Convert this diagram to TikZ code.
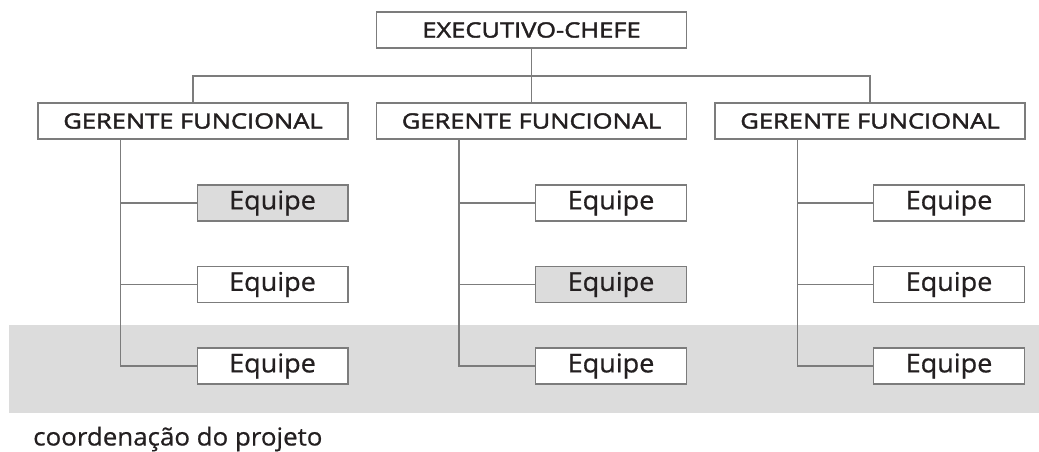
\documentclass[tikz,border=0pt]{standalone}
\usepackage{fontspec}
\setmainfont{Open Sans}
\newfontfamily\capsfont[FakeStretch=1.21,FakeBold=2]{Open Sans}
\newfontfamily\teamfont[FakeStretch=1.05,FakeBold=0.7]{Open Sans}
\newfontfamily\notefont[FakeStretch=1.05,FakeBold=0.6]{Open Sans}
\definecolor{linegray}{HTML}{7C7C7C}
\definecolor{fillgray}{HTML}{DCDCDC}
\definecolor{ink}{HTML}{231F20}
\begin{document}
\begin{tikzpicture}[x=0.75pt,y=-0.75pt,
  box/.style={draw=linegray,line width=1pt,fill=white,inner sep=0pt,text=ink},
  head/.style={box,minimum width=232.5pt,minimum height=27pt,font=\capsfont\fontsize{15.8}{19}\selectfont},
  team/.style={box,minimum width=113pt,minimum height=27pt,font=\teamfont\fontsize{19.3}{23}\selectfont},
  link/.style={draw=linegray,line width=1pt}]
\useasboundingbox (0,0) rectangle (1039,452);
% project coordination band
\fill[fillgray] (9,325) rectangle (1039,413);
\node[anchor=base west,text=ink,font=\notefont\fontsize{18.5}{22}\selectfont,inner sep=0pt] (coord) at (33,445.5) {coordenação do projeto};
% hierarchy
\node[head] (exec) at (531.5,30) {EXECUTIVO-CHEFE};
\node[head] (m1) at (193,121) {GERENTE FUNCIONAL};
\node[head] (m2) at (531.5,121) {GERENTE FUNCIONAL};
\node[head] (m3) at (870,121) {GERENTE FUNCIONAL};
\coordinate (bus) at (531.5,76);
\draw[link] (exec) -- (bus);
\draw[link] (m1.north) |- (bus) -| (m3.north);
\draw[link] (bus) -- (m2.north);
% teams: one column per manager
\foreach \c/\x/\fa/\fb in {1/272.5/fillgray/white,2/611/white/fillgray,3/949/white/white}{
  \node[team,fill=\fa] (t\c1) at (\x,203) {Equipe};
  \node[team,fill=\fb] (t\c2) at (\x,284.5) {Equipe};
  \node[team] (t\c3) at (\x,366) {Equipe};
}
\foreach \c in {1,2,3}{
  \coordinate (s\c) at ([xshift=62.25pt]m\c.south west);
  \draw[link] (s\c) |- (t\c3.west);
  \draw[link] (t\c1.west) -- (t\c1.west -| s\c);
  \draw[link] (t\c2.west) -- (t\c2.west -| s\c);
}
\end{tikzpicture}
\end{document}
